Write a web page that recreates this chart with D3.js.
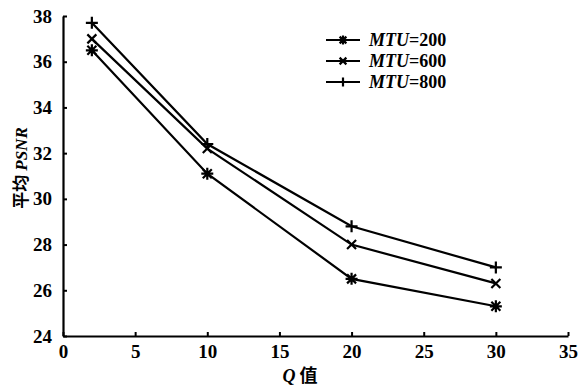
<!DOCTYPE html>
<html><head><meta charset="utf-8">
<script src="https://cdn.jsdelivr.net/npm/d3@7"></script>
<style>body{margin:0;background:#fff}svg{display:block}</style>
</head><body>
<script>
const qValues = [2, 10, 20, 30];
const mtu200 = [36.5, 31.1, 26.5, 25.3];
const mtu600 = [37.0, 32.2, 28.0, 26.3];
const mtu800 = [37.7, 32.4, 28.8, 27.0];
const seriesNames = ["200", "600", "800"];
const xTicks = [0, 5, 10, 15, 20, 25, 30, 35];
const yTicks = [24, 26, 28, 30, 32, 34, 36, 38];

const W = 581, H = 386;
const svg = d3.select("body").append("svg").attr("width", W).attr("height", H);
const x = d3.scaleLinear().domain([0, 35]).range([63, 568]);
const y = d3.scaleLinear().domain([24, 38]).range([336, 16]);
const font = "'Liberation Serif', 'Times New Roman', serif";

// axes
const xAxis = svg.append("g").attr("transform", `translate(0,${y(24)})`)
  .call(d3.axisBottom(x).tickValues(xTicks).tickSizeInner(-4).tickSizeOuter(0).tickPadding(9));
const yAxis = svg.append("g").attr("transform", `translate(${x(0)},0)`)
  .call(d3.axisLeft(y).tickValues(yTicks).tickSizeInner(-4).tickSizeOuter(0).tickPadding(11));
[xAxis, yAxis].forEach(g => {
  g.attr("font-family", null).attr("font-size", null);
  g.select(".domain").attr("stroke", "#000").attr("stroke-width", 2.2);
  g.selectAll(".tick line").attr("stroke", "#000").attr("stroke-width", 2);
  g.selectAll(".tick text").style("font-family", font).style("font-weight", "bold")
    .style("font-size", "19px").attr("fill", "#000");
});
xAxis.selectAll(".tick text").attr("dy", "0.71em");

// markers
function marker(g, type, cx, cy, s) {
  const p = d3.path();
  if (type === "plus" || type === "star") { p.moveTo(cx - s, cy); p.lineTo(cx + s, cy); p.moveTo(cx, cy - s); p.lineTo(cx, cy + s); }
  if (type === "cross" || type === "star") { const d = s * 0.75; p.moveTo(cx - d, cy - d); p.lineTo(cx + d, cy + d); p.moveTo(cx - d, cy + d); p.lineTo(cx + d, cy - d); }
  g.append("path").attr("d", p.toString()).attr("stroke", "#000").attr("stroke-width", 2.2).attr("fill", "none");
}

const series = [
  { name: seriesNames[0], vals: mtu200, m: "star" },
  { name: seriesNames[1], vals: mtu600, m: "cross" },
  { name: seriesNames[2], vals: mtu800, m: "plus" }
];
const line = d3.line().x(d => x(d[0])).y(d => y(d[1]));
series.forEach(s => {
  const pts = qValues.map((q, i) => [q, s.vals[i]]);
  svg.append("path").attr("d", line(pts)).attr("fill", "none").attr("stroke", "#000").attr("stroke-width", 2.2);
  const g = svg.append("g");
  pts.forEach(p => marker(g, s.m, x(p[0]), y(p[1]), 6));
});

// legend
series.forEach((s, i) => {
  const ly = 40 + i * 21;
  svg.append("line").attr("x1", 326).attr("x2", 360).attr("y1", ly).attr("y2", ly).attr("stroke", "#000").attr("stroke-width", 2.2);
  marker(svg.append("g"), s.m, 343, ly, 4.5);
  const t = svg.append("text").attr("x", 369).attr("y", ly + 6).style("font-family", font)
    .style("font-weight", "bold").style("font-size", "18px").attr("fill", "#000");
  t.append("tspan").style("font-style", "italic").text("MTU");
  t.append("tspan").text("=" + s.name);
});

// axis titles
const xt = svg.append("text").attr("x", 300).attr("y", 382).attr("text-anchor", "middle")
  .style("font-size", "18px").style("font-weight", "bold").attr("fill", "#000");
xt.append("tspan").style("font-family", font).style("font-style", "italic").text("Q");
xt.append("tspan").style("font-family", "'Noto Sans CJK SC', sans-serif").attr("dx", 4).text("值");

const yt = svg.append("text").attr("transform", "translate(27,168) rotate(-90)").attr("text-anchor", "middle")
  .style("font-size", "17px").style("font-weight", "bold").attr("fill", "#000");
yt.append("tspan").style("font-family", "'Noto Sans CJK SC', sans-serif").text("平均");
yt.append("tspan").style("font-family", font).style("font-style", "italic").attr("dx", 4).text("PSNR");
</script>
</body></html>
